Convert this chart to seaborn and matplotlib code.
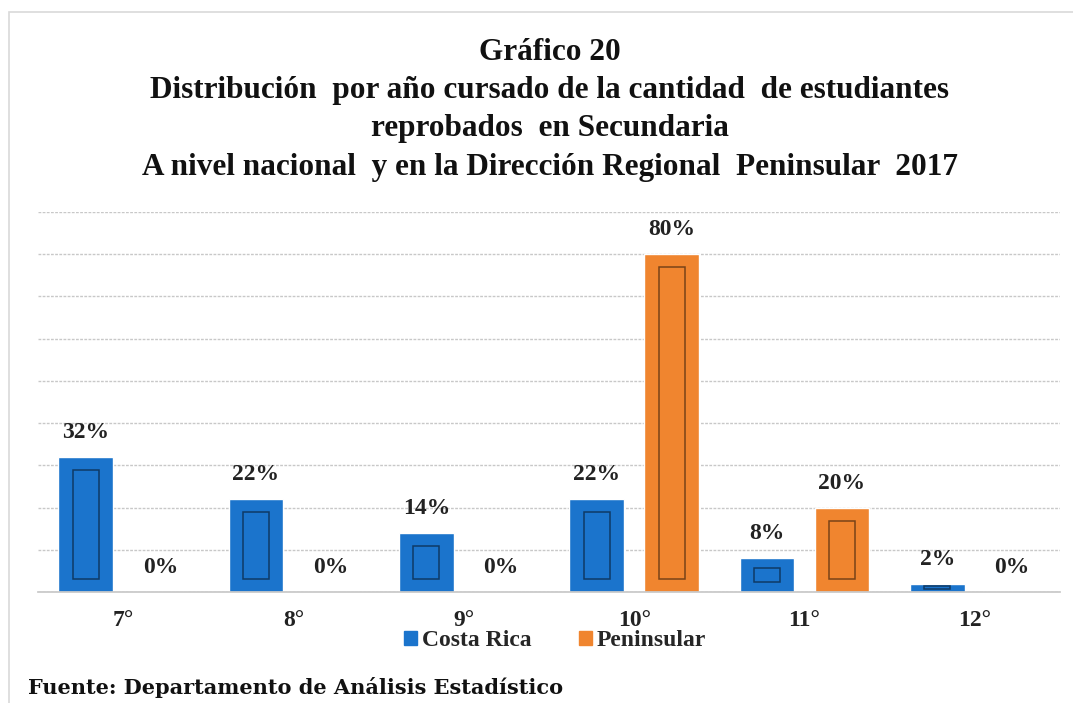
import pandas as pd
import numpy as np
import matplotlib.pyplot as plt
import matplotlib.patches as mpatches
import seaborn as sns

grados = ['7°', '8°', '9°', '10°', '11°', '12°']
costa_rica = [32, 22, 14, 22, 8, 2]
peninsular = [0, 0, 0, 80, 20, 0]
series = ['Costa Rica', 'Peninsular']
colores = ['#1b74cc', '#f0852f']

df = pd.DataFrame({
    'grado': grados * 2,
    'serie': [series[0]] * len(grados) + [series[1]] * len(grados),
    'valor': costa_rica + peninsular,
})

sns.set_theme(style='white')
plt.rcParams['font.family'] = ['Liberation Serif', 'DejaVu Serif']

fig = plt.figure(figsize=(10.73, 7.03), dpi=100)
ax = fig.add_axes([38 / 1073, 1 - 592 / 703, (1060 - 38) / 1073, (592 - 212) / 703])

sns.barplot(data=df, x='grado', y='valor', hue='serie', palette=colores,
            width=0.88, gap=0.27, saturation=1, ax=ax, legend=False)

# inner bevel-like outline on each bar
for p in ax.patches:
    x, y = p.get_x(), p.get_y()
    w, h = p.get_width(), p.get_height()
    if h <= 0:
        continue
    col = p.get_facecolor()
    dark = tuple(c * 0.5 for c in col[:3])
    ix = w * 0.26
    iy = min(h * 0.3, 3.1)
    inner = mpatches.Rectangle((x + ix, y + iy), w - 2 * ix, max(h - 2 * iy, 0.2),
                               fill=False, edgecolor=dark, linewidth=1.1, zorder=3)
    ax.add_patch(inner)

for cont in ax.containers:
    ax.bar_label(cont, labels=[f'{v:.0f}%' for v in cont.datavalues], padding=10,
                 fontsize=17, fontweight='bold', color='#222222')

ax.set_ylim(0, 90)
ax.set_xlim(-0.5, 5.5)
ax.set_yticks(np.arange(0, 91, 10))
ax.set_yticklabels([])
ax.yaxis.grid(True, color='#c8c8c8', linestyle=(0, (2, 1)), linewidth=1)
ax.set_axisbelow(True)
for s in ['top', 'right', 'left']:
    ax.spines[s].set_visible(False)
ax.spines['bottom'].set_color('#c8c8c8')
ax.spines['bottom'].set_linestyle((0, (2, 1)))
ax.tick_params(axis='x', length=0, pad=13)
ax.tick_params(axis='y', length=0)
for t in ax.get_xticklabels():
    t.set_fontsize(17)
    t.set_fontweight('bold')
    t.set_color('#222222')
ax.set_xlabel('')
ax.set_ylabel('')

handles = [mpatches.Patch(color=c, label=s) for c, s in zip(colores, series)]
fig.legend(handles=handles, loc='center', bbox_to_anchor=(555 / 1073, 1 - 641 / 703),
           ncol=2, frameon=False, handlelength=0.55, handleheight=0.55,
           handletextpad=0.2, columnspacing=2.0, prop={'weight': 'bold', 'size': 17})

titulo = ('Gráfico 20\n'
          'Distribución  por año cursado de la cantidad  de estudiantes\n'
          'reprobados  en Secundaria\n'
          'A nivel nacional  y en la Dirección Regional  Peninsular  2017')
fig.text(550 / 1073, 1 - 38 / 703, titulo, ha='center', va='top', fontsize=22.5,
         fontweight='bold', linespacing=1.42, color='#111111')

fig.text(28 / 1073, 1 - 688 / 703, 'Fuente: Departamento de Análisis Estadístico',
         ha='left', va='center', fontsize=15, fontweight='bold', color='#111111',
         family='DejaVu Serif')

# light frame around the chart
frame = mpatches.Rectangle((9 / 1073, -0.01), 1.02, 1 - 12 / 703 + 0.01, transform=fig.transFigure,
                           fill=False, edgecolor='#d9d9d9', linewidth=1.2, clip_on=False)
fig.patches.append(frame)

fig.savefig('out.png', dpi=100)
